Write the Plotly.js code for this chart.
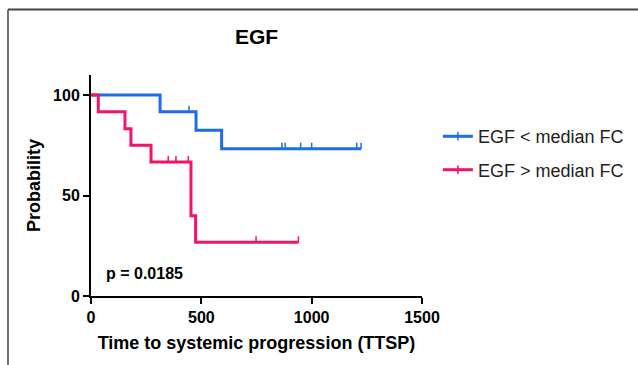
<!DOCTYPE html>
<html>
<head>
<meta charset="utf-8">
<script src="https://cdn.plot.ly/plotly-3.0.1.min.js"></script>
<style>html,body{margin:0;padding:0;background:#fff;}#chart{width:638px;height:365px;}</style>
</head>
<body>
<div id="chart"></div>
<script>
// Kaplan-Meier step data (time in days, survival in %)
const blueName = "EGF < median FC";
const blueTime = [0, 313, 476, 592, 1224];
const blueSurv = [100, 91.7, 82.5, 73.3, 73.3];
const blueCensorTime = [444, 865, 880, 950, 1000, 1204, 1224];
const blueCensorSurv = [91.7, 73.3, 73.3, 73.3, 73.3, 73.3, 73.3];

const redName = "EGF > median FC";
const redTime = [0, 33, 154, 181, 272, 453, 474, 940];
const redSurv = [100, 91.7, 83.3, 75, 66.7, 40, 26.7, 26.7];
const redCensorTime = [350, 385, 441, 748, 940];
const redCensorSurv = [66.7, 66.7, 66.7, 26.7, 26.7];

const xTicks = [0, 500, 1000, 1500];
const yTicks = [0, 50, 100];
const pText = "p = 0.0185";

const blue = "#1a6ee6";
const red = "#f0156a";
const font = "Liberation Sans, Arial, sans-serif";

function stepTrace(t, s, color) {
  return {x: t, y: s, type: "scatter", mode: "lines", line: {shape: "hv", color: color, width: 3},
          showlegend: false, cliponaxis: false, hoverinfo: "skip"};
}
function censorTrace(t, s, color) {
  return {x: t, y: s, type: "scatter", mode: "markers",
          marker: {size: 1, color: color, opacity: 0},
          error_y: {type: "constant", symmetric: false, value: 3, valueminus: 0, width: 0, thickness: 1.5, color: color},
          showlegend: false, cliponaxis: false, hoverinfo: "skip"};
}
function legendTrace(name, color, grp) {
  return {x: [null], y: [null], type: "scatter", mode: "lines+markers", name: name, legendgroup: grp,
          line: {color: color, width: 3},
          marker: {symbol: "line-ns", size: 6, color: color, line: {color: color, width: 1.5}}};
}

const data = [
  stepTrace(blueTime, blueSurv, blue),
  censorTrace(blueCensorTime, blueCensorSurv, blue),
  stepTrace(redTime, redSurv, red),
  censorTrace(redCensorTime, redCensorSurv, red),
  legendTrace(blueName, blue, "a"),
  legendTrace(redName, red, "b")
];

const axisCommon = {
  showline: true, linecolor: "#000", linewidth: 2, mirror: false,
  ticks: "outside", ticklen: 6, tickwidth: 2, tickcolor: "#000",
  showgrid: false, zeroline: false,
  tickfont: {family: font, size: 16, color: "#000", weight: "bold"}
};

const layout = {
  width: 638, height: 365,
  margin: {l: 91, r: 216, t: 75, b: 69, autoexpand: false},
  paper_bgcolor: "#fff", plot_bgcolor: "#fff",
  title: {text: "EGF", font: {family: font, size: 21, color: "#000", weight: "bold"},
          x: 0.5, xref: "paper", y: 0.9, yref: "container", xanchor: "center", yanchor: "middle"},
  xaxis: Object.assign({}, axisCommon, {range: [0, 1500], tickvals: xTicks,
    title: {text: "Time to systemic progression (TTSP)", font: {family: font, size: 18, color: "#000", weight: "bold"}, standoff: 11}}),
  yaxis: Object.assign({}, axisCommon, {range: [0, 110], tickvals: yTicks,
    title: {text: "Probability", font: {family: font, size: 18, color: "#000", weight: "bold"}, standoff: 8}}),
  legend: {x: 1.048, xanchor: "left", y: 0.805, yanchor: "top", traceorder: "grouped", tracegroupgap: 7,
           font: {family: font, size: 18, color: "#222"}, bgcolor: "rgba(0,0,0,0)"},
  annotations: [{text: pText, xref: "paper", yref: "paper", x: 0.04, y: 0.10, xanchor: "left", yanchor: "middle",
                 showarrow: false, font: {family: font, size: 16, color: "#000", weight: "bold"}}],
  shapes: [
    {type: "line", xref: "paper", yref: "paper", x0: -0.2508, x1: -0.2508, y0: -0.33, y1: 1.296, line: {color: "#444", width: 1.5}},
    {type: "line", xref: "paper", yref: "paper", x0: -0.2508, x1: 1.7, y0: 1.296, y1: 1.296, line: {color: "#444", width: 2}}
  ]
};

Plotly.newPlot("chart", data, layout, {displayModeBar: false, staticPlot: true});
</script>
</body>
</html>
